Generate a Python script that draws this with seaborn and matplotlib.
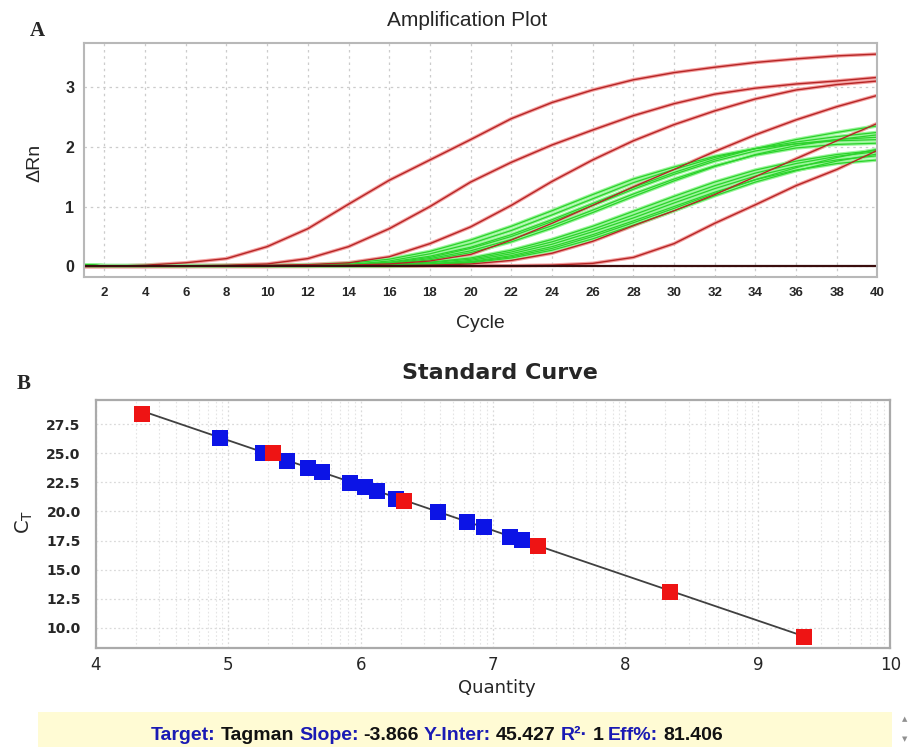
import numpy as np
import pandas as pd
import matplotlib
matplotlib.use("Agg")
import matplotlib.pyplot as plt
import seaborn as sns
from matplotlib.offsetbox import TextArea, HPacker, AnnotationBbox
from matplotlib.patches import Rectangle

sns.set_style("white")
plt.rcParams['font.family'] = ['Liberation Sans', 'DejaVu Sans']
plt.rcParams['mathtext.fontset'] = 'dejavusans'

# --- amplification plot data (delta Rn read at even cycles) ---
cycles = [1, 2, 4, 6, 8, 10, 12, 14, 16, 18, 20, 22, 24, 26, 28, 30, 32, 34, 36, 38, 40]

std_1 = [0.00, 0.00, 0.02, 0.06, 0.13, 0.33, 0.63, 1.04, 1.44, 1.78, 2.12, 2.47, 2.74, 2.95, 3.12, 3.24, 3.33, 3.41, 3.47, 3.52, 3.55]
std_2 = [0.00, 0.00, 0.00, 0.01, 0.02, 0.04, 0.13, 0.33, 0.63, 1.00, 1.41, 1.74, 2.03, 2.28, 2.52, 2.72, 2.88, 2.98, 3.05, 3.10, 3.16]
std_3 = [0.00, 0.00, 0.00, 0.00, 0.01, 0.02, 0.03, 0.06, 0.16, 0.38, 0.66, 1.02, 1.42, 1.78, 2.10, 2.37, 2.60, 2.80, 2.95, 3.04, 3.10]
std_4 = [0.00, 0.00, 0.00, 0.00, 0.00, 0.00, 0.01, 0.02, 0.04, 0.09, 0.20, 0.44, 0.72, 1.02, 1.33, 1.62, 1.92, 2.20, 2.45, 2.67, 2.86]
std_5 = [0.00, 0.00, 0.00, 0.00, 0.00, 0.00, 0.00, 0.01, 0.01, 0.02, 0.04, 0.10, 0.22, 0.42, 0.68, 0.93, 1.20, 1.50, 1.80, 2.10, 2.39]
std_6 = [0.00, 0.00, 0.00, 0.00, 0.00, 0.00, 0.00, 0.00, 0.00, 0.01, 0.01, 0.01, 0.02, 0.05, 0.15, 0.38, 0.72, 1.03, 1.35, 1.62, 1.94]

smp_1 = [0.02, 0.01, 0.01, 0.01, 0.01, 0.01, 0.02, 0.05, 0.12, 0.25, 0.44, 0.67, 0.93, 1.20, 1.46, 1.66, 1.84, 1.97, 2.05, 2.10, 2.12]
smp_2 = [0.02, 0.01, 0.01, 0.01, 0.01, 0.01, 0.01, 0.03, 0.09, 0.21, 0.38, 0.60, 0.86, 1.13, 1.40, 1.62, 1.82, 1.97, 2.08, 2.17, 2.24]
smp_3 = [0.02, 0.01, 0.01, 0.01, 0.01, 0.01, 0.01, 0.03, 0.07, 0.17, 0.32, 0.53, 0.78, 1.05, 1.32, 1.57, 1.79, 1.97, 2.12, 2.24, 2.35]
smp_4 = [0.02, 0.01, 0.01, 0.01, 0.01, 0.01, 0.01, 0.02, 0.06, 0.15, 0.30, 0.50, 0.75, 1.02, 1.29, 1.54, 1.76, 1.93, 2.05, 2.12, 2.16]
smp_5 = [0.02, 0.01, 0.01, 0.01, 0.01, 0.01, 0.01, 0.02, 0.05, 0.13, 0.26, 0.45, 0.68, 0.94, 1.21, 1.46, 1.68, 1.86, 1.98, 2.04, 2.06]
smp_6 = [0.02, 0.01, 0.01, 0.01, 0.01, 0.01, 0.01, 0.02, 0.04, 0.11, 0.23, 0.41, 0.64, 0.90, 1.17, 1.43, 1.67, 1.87, 2.02, 2.12, 2.20]
smp_7 = [0.02, 0.01, 0.01, 0.01, 0.01, 0.01, 0.01, 0.01, 0.03, 0.07, 0.14, 0.27, 0.45, 0.67, 0.92, 1.17, 1.41, 1.61, 1.76, 1.87, 1.94]
smp_8 = [0.02, 0.01, 0.01, 0.01, 0.01, 0.01, 0.01, 0.01, 0.02, 0.06, 0.12, 0.24, 0.41, 0.62, 0.86, 1.11, 1.35, 1.56, 1.72, 1.84, 1.92]
smp_9 = [0.02, 0.01, 0.01, 0.01, 0.01, 0.01, 0.01, 0.01, 0.02, 0.04, 0.10, 0.21, 0.37, 0.58, 0.81, 1.06, 1.30, 1.51, 1.67, 1.78, 1.85]
smp_10 = [0.02, 0.01, 0.01, 0.01, 0.01, 0.01, 0.01, 0.01, 0.02, 0.04, 0.08, 0.18, 0.33, 0.53, 0.76, 1.00, 1.24, 1.45, 1.61, 1.72, 1.78]
smp_11 = [0.02, 0.01, 0.01, 0.01, 0.01, 0.01, 0.01, 0.01, 0.01, 0.03, 0.07, 0.16, 0.30, 0.50, 0.73, 0.97, 1.22, 1.45, 1.65, 1.82, 1.96]
smp_12 = [0.02, 0.01, 0.01, 0.01, 0.01, 0.01, 0.01, 0.01, 0.01, 0.02, 0.06, 0.14, 0.27, 0.46, 0.69, 0.93, 1.18, 1.41, 1.60, 1.76, 1.88]

ntc = [0.0] * len(cycles)

std_curves = [std_1, std_2, std_3, std_4, std_5, std_6]
smp_curves = [smp_1, smp_2, smp_3, smp_4, smp_5, smp_6, smp_7, smp_8, smp_9, smp_10, smp_11, smp_12]

# --- standard curve data ---
std_qty = [4.345, 5.34, 6.33, 7.34, 8.34, 9.35]
std_ct = [28.36, 24.99, 20.92, 17.04, 13.12, 9.26]
unk_qty = [4.94, 5.26, 5.44, 5.60, 5.71, 5.92, 6.03, 6.12, 6.27, 6.58, 6.80, 6.93, 7.13, 7.22]
unk_ct = [26.27, 24.99, 24.35, 23.70, 23.36, 22.47, 22.12, 21.78, 21.04, 19.98, 19.12, 18.64, 17.78, 17.55]
slope = -3.866
y_inter = 45.427

rows = []
for i, c in enumerate(std_curves):
    for cy, v in zip(cycles, c):
        rows.append(("std%d" % i, "std", cy, v))
for i, c in enumerate(smp_curves):
    for cy, v in zip(cycles, c):
        rows.append(("smp%d" % i, "smp", cy, v))
amp = pd.DataFrame(rows, columns=["well", "kind", "cycle", "dRn"])
reds = amp[amp.kind == "std"]
greens = amp[amp.kind == "smp"]

fig = plt.figure(figsize=(9.14, 7.47), dpi=100)

# ---------------- A: amplification plot ----------------
ax1 = fig.add_axes([0.092, 0.629, 0.868, 0.313])
sns.lineplot(data=reds, x="cycle", y="dRn", units="well", estimator=None,
             color="#f4a0a0", lw=2.6, ax=ax1)
sns.lineplot(data=greens, x="cycle", y="dRn", units="well", estimator=None,
             color="#9af59a", lw=2.6, ax=ax1)
sns.lineplot(data=greens, x="cycle", y="dRn", units="well", estimator=None,
             color="#2bd22b", lw=0.9, ax=ax1)
sns.lineplot(data=reds, x="cycle", y="dRn", units="well", estimator=None,
             color="#b52525", lw=1.0, ax=ax1)
sns.lineplot(x=cycles, y=ntc, color="#3a0d0d", lw=1.6, ax=ax1)

ax1.set_xlim(1, 40)
ax1.set_ylim(-0.18, 3.73)
ax1.set_xticks(range(2, 41, 2))
ax1.set_yticks([0, 1, 2, 3])
ax1.set_xlabel("")
ax1.set_ylabel("")
ax1.grid(True, color="#cccccc", ls=(0, (2, 3)), lw=0.9)
for sp in ax1.spines.values():
    sp.set_color("#b8b8b8")
    sp.set_linewidth(1.5)
ax1.tick_params(axis="x", length=3, width=1, color="#999999", pad=4, labelsize=9.5)
ax1.tick_params(axis="y", length=3, width=1, color="#999999", pad=4, labelsize=11.5)
for lab in ax1.get_xticklabels() + ax1.get_yticklabels():
    lab.set_fontweight("bold")

fig.text(0.511, 1 - 20 / 747, "Amplification Plot", fontsize=15, ha="center", va="center")
fig.text(480 / 914, 1 - 323 / 747, "Cycle", fontsize=14, ha="center", va="center")
fig.text(35 / 914, 1 - 163 / 747, "ΔRn", fontsize=14, rotation=90, ha="center", va="center")
fig.text(37 / 914, 1 - 31 / 747, "A", fontsize=15, fontweight="bold",
         family=["Liberation Serif", "DejaVu Serif"], ha="center", va="center")

# ---------------- B: standard curve ----------------
ax2 = fig.add_axes([0.105, 0.1325, 0.869, 0.332])
fit_x = np.array([min(std_qty), max(std_qty)])
fit_y = y_inter + slope * fit_x
sns.lineplot(x=fit_x, y=fit_y, color="#404040", lw=1.3, ax=ax2, zorder=2)
sns.scatterplot(x=unk_qty, y=unk_ct, marker="s", s=120, color="#0c14e6",
                linewidth=0, ax=ax2, zorder=3)
sns.scatterplot(x=std_qty, y=std_ct, marker="s", s=120, color="#ee1414",
                linewidth=0, ax=ax2, zorder=4)

ax2.set_xlim(4, 10)
ax2.set_ylim(8.28, 29.56)
ax2.set_xticks(range(4, 11))
ax2.set_xticks([n + np.log10(k) for n in range(4, 10) for k in range(2, 10)], minor=True)
ax2.set_yticks(np.arange(10, 28.1, 2.5))
ax2.set_yticklabels(["%.1f" % v for v in np.arange(10, 28.1, 2.5)])
ax2.set_xlabel("")
ax2.set_ylabel("")
ax2.grid(True, which="major", color="#dadada", ls=(0, (1.5, 2)), lw=0.9)
ax2.grid(True, which="minor", axis="x", color="#e4e4e4", ls=(0, (1.5, 2)), lw=0.8)
for sp in ax2.spines.values():
    sp.set_color("#aaaaaa")
    sp.set_linewidth(1.6)
ax2.tick_params(axis="x", which="major", length=3, color="#999999", pad=3, labelsize=12)
ax2.tick_params(axis="x", which="minor", length=0)
ax2.tick_params(axis="y", length=3, color="#999999", pad=8, labelsize=10)
for lab in ax2.get_xticklabels():
    lab.set_family("DejaVu Sans")
for lab in ax2.get_yticklabels():
    lab.set_family("DejaVu Sans")
    lab.set_fontweight("bold")

fig.text(500 / 914, 1 - 373 / 747, "Standard Curve", fontsize=16, fontweight="heavy",
         family="DejaVu Sans", ha="center", va="center")
fig.text(497 / 914, 1 - 688 / 747, "Quantity", fontsize=13, family="DejaVu Sans",
         ha="center", va="center")
fig.text(24 / 914, 1 - 522 / 747, r"C$_{\mathrm{T}}$", fontsize=14, rotation=90,
         family="DejaVu Sans", ha="center", va="center")
fig.text(24 / 914, 1 - 384 / 747, "B", fontsize=15, fontweight="bold",
         family=["Liberation Serif", "DejaVu Serif"], ha="center", va="center")

# ---------------- results bar ----------------
fig.add_artist(Rectangle((38 / 914, 0), (892 - 38) / 914, 35 / 747,
                         transform=fig.transFigure, facecolor="#fffbd4", edgecolor="none"))
fig.text(905 / 914, 1 - 719 / 747, "▲", fontsize=5, color="#909090", ha="center", va="center",
         family="DejaVu Sans")
fig.text(905 / 914, 1 - 739 / 747, "▼", fontsize=5, color="#909090", ha="center", va="center",
         family="DejaVu Sans")

blue = "#1a1ab4"
pieces = [("Target:", blue), ("Tagman", "#111111"), ("Slope:", blue), ("%.3f" % slope, "#111111"),
          ("Y-Inter:", blue), ("%.3f" % y_inter, "#111111"), ("R²·", blue), ("1", "#111111"),
          ("Eff%:", blue), ("81.406", "#111111")]
areas = [TextArea(t, textprops=dict(color=c, fontsize=14, fontweight="bold",
                                    family="Liberation Sans"))
         for t, c in pieces]
pack = HPacker(children=areas, sep=3.5, pad=0, align="baseline")
ab = AnnotationBbox(pack, (437 / 914, 1 - 735 / 747), xycoords="figure fraction",
                    frameon=False, box_alignment=(0.5, 0.5))
fig.add_artist(ab)

fig.savefig("out.png", dpi=100)
